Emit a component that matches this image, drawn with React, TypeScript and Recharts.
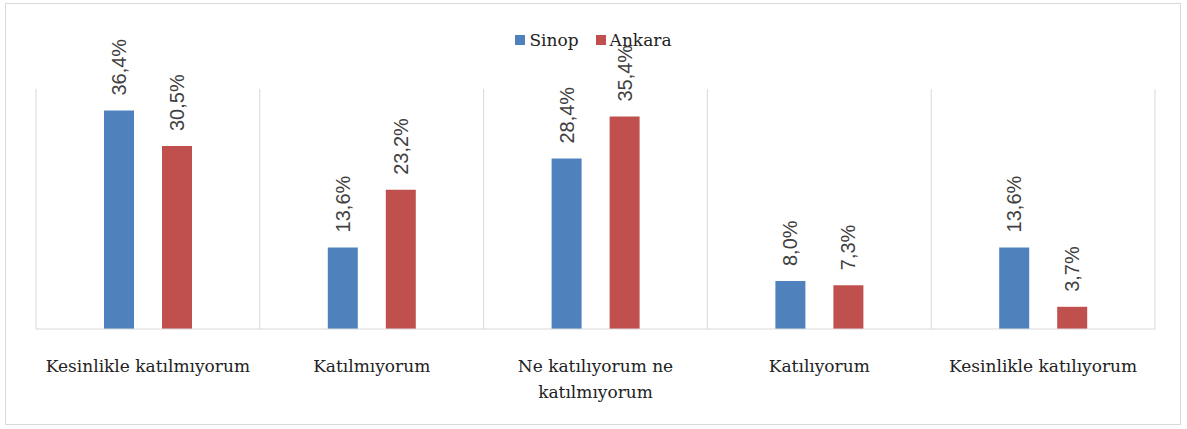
import React from 'react';
import { BarChart, Bar, XAxis, YAxis, CartesianGrid, Legend, LabelList } from 'recharts';

const categories = [
  'Kesinlikle katılmıyorum',
  'Katılmıyorum',
  'Ne katılıyorum ne katılmıyorum',
  'Katılıyorum',
  'Kesinlikle katılıyorum',
];
// tick labels as they wrap in the picture
const tickLines = [
  ['Kesinlikle katılmıyorum'],
  ['Katılmıyorum'],
  ['Ne katılıyorum ne', 'katılmıyorum'],
  ['Katılıyorum'],
  ['Kesinlikle katılıyorum'],
];
const sinop = [36.4, 13.6, 28.4, 8.0, 13.6];
const ankara = [30.5, 23.2, 35.4, 7.3, 3.7];
const seriesNames = ['Sinop', 'Ankara'];
const seriesColors = ['#4F81BD', '#C0504D'];

const data = categories.map((name, i) => ({ name, Sinop: sinop[i], Ankara: ankara[i] }));

const W = 1187;
const H = 429;
const serif = '"DejaVu Serif", serif';
const sans = '"Liberation Sans", Arial, sans-serif';

const fmt = (v: number) => v.toFixed(1).replace('.', ',') + '%';

const VLabel = (props: any) => {
  const { x, y, width, value } = props;
  const cx = x + width / 2;
  const cy = y - 15;
  return (
    <text
      x={cx}
      y={cy}
      transform={`rotate(-90, ${cx}, ${cy})`}
      textAnchor="start"
      dominantBaseline="central"
      style={{ fontFamily: sans, fontSize: 20 }}
      fill="#404040"
    >
      {fmt(value)}
    </text>
  );
};

const CatTick = (props: any) => {
  const { x, y, index } = props;
  const lines = tickLines[index] || [];
  return (
    <text
      x={x}
      y={y + 35}
      textAnchor="middle"
      style={{ fontFamily: serif, fontSize: 17 }}
      fill="#222"
    >
      {lines.map((l, i) => (
        <tspan key={i} x={x} dy={i === 0 ? 0 : 26}>{l}</tspan>
      ))}
    </text>
  );
};

const LegendContent = () => (
  <div style={{ display: 'flex', justifyContent: 'center', fontFamily: serif, fontSize: 17, color: '#222' }}>
    {seriesNames.map((n, i) => (
      <span key={n} style={{ display: 'inline-flex', alignItems: 'center', marginRight: i === 0 ? 17 : 0 }}>
        <span style={{ width: 10, height: 10, background: seriesColors[i], marginRight: 4 }} />
        {n}
      </span>
    ))}
  </div>
);

export default function App() {
  return (
    <div style={{ position: 'absolute', left: 0, top: 0, width: W, height: H, background: '#fff' }}>
      <div
        style={{
          position: 'absolute', left: 5, top: 3, width: 1176, height: 422,
          border: '1px solid #d9d9d9', boxSizing: 'border-box',
        }}
      />
      <BarChart
        width={W}
        height={H}
        data={data}
        margin={{ top: 89, right: 32, bottom: 70, left: 36 }}
        barSize={30}
        barGap={28}
        barCategoryGap={68}
      >
        <CartesianGrid
          horizontal={false}
          stroke="#d9d9d9"
          verticalCoordinatesGenerator={({ offset }: any) =>
            categories.map((_, i) => offset.left + (offset.width * i) / categories.length)
              .concat([offset.left + offset.width])
          }
        />
        <XAxis
          dataKey="name"
          axisLine={{ stroke: '#d9d9d9' }}
          tickLine={false}
          interval={0}
          tick={<CatTick />}
        />
        <YAxis hide domain={[0, 40]} />
        <Legend
          verticalAlign="middle"
          align="center"
          layout="horizontal"
          content={<LegendContent />}
          wrapperStyle={{ top: 30, left: 0, width: W }}
        />
        {seriesNames.map((n, i) => (
          <Bar key={n} dataKey={n} fill={seriesColors[i]} isAnimationActive={false}>
            <LabelList dataKey={n} content={<VLabel />} />
          </Bar>
        ))}
      </BarChart>
    </div>
  );
}
